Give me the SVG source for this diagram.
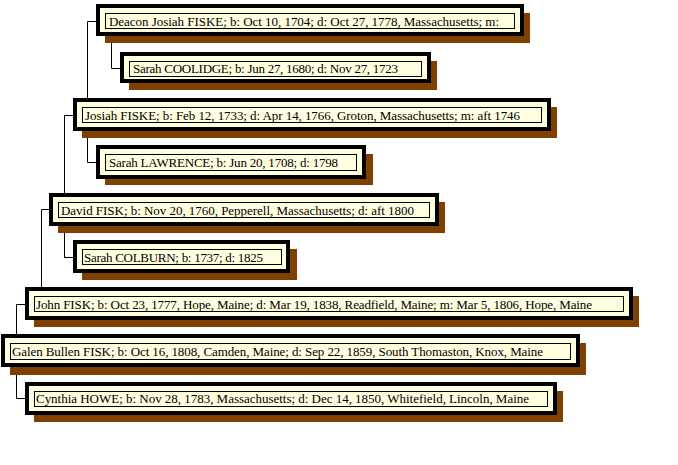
<svg xmlns="http://www.w3.org/2000/svg" width="678" height="465" viewBox="0 0 678 465">
<style>
.shadow{fill:#804000}
.box{fill:#FFFFE0;stroke:#000;stroke-width:4}
.inner{fill:none;stroke:#000;stroke-width:1}
.t{font-family:"Liberation Serif","Times New Roman",serif;font-size:13px;fill:#000}
.conn{fill:none;stroke:#000;stroke-width:1}
</style>
<rect width="678" height="465" fill="#fff"/>
<g id="connectors">
<polyline class="conn" points="96,21.5 87.5,21.5 87.5,98"/>
<polyline class="conn" points="111.5,43 111.5,68.5 120,68.5"/>
<polyline class="conn" points="73,115.5 64.5,115.5 64.5,193"/>
<polyline class="conn" points="87.5,138 87.5,162.5 96,162.5"/>
<polyline class="conn" points="49,209.5 41.5,209.5 41.5,287"/>
<polyline class="conn" points="64.5,233 64.5,257.5 73,257.5"/>
<polyline class="conn" points="25,304.5 16.5,304.5 16.5,334"/>
<polyline class="conn" points="16.5,374 16.5,398.5 25,398.5"/>
</g>
<g id="n1">
<rect class="shadow" x="105" y="13" width="425" height="30"/>
<rect class="box" x="98" y="6" width="424" height="28"/>
<rect class="inner" x="105.5" y="13.5" width="409" height="15"/>
<text class="t" x="109" y="26" textLength="390">Deacon Josiah FISKE; b: Oct 10, 1704; d: Oct 27, 1778, Massachusetts; m:</text>
</g>
<g id="n2">
<rect class="shadow" x="129" y="61" width="308" height="29"/>
<rect class="box" x="122" y="54" width="307" height="27"/>
<rect class="inner" x="129.5" y="61.5" width="292" height="15"/>
<text class="t" x="133" y="73" textLength="265">Sarah COOLIDGE; b: Jun 27, 1680; d: Nov 27, 1723</text>
</g>
<g id="n3">
<rect class="shadow" x="82" y="107" width="475" height="31"/>
<rect class="box" x="75" y="100" width="474" height="29"/>
<rect class="inner" x="82.5" y="107.5" width="459" height="15"/>
<text class="t" x="85" y="120" textLength="435">Josiah FISKE; b: Feb 12, 1733; d: Apr 14, 1766, Groton, Massachusetts; m: aft 1746</text>
</g>
<g id="n4">
<rect class="shadow" x="105" y="154" width="268" height="31"/>
<rect class="box" x="98" y="147" width="266" height="30"/>
<rect class="inner" x="105.5" y="154.5" width="251" height="16"/>
<text class="t" x="109" y="167" textLength="229">Sarah LAWRENCE; b: Jun 20, 1708; d: 1798</text>
</g>
<g id="n5">
<rect class="shadow" x="58" y="202" width="387" height="31"/>
<rect class="box" x="51" y="195" width="386" height="29"/>
<rect class="inner" x="58.5" y="202.5" width="371" height="15"/>
<text class="t" x="61" y="215" textLength="353">David FISK; b: Nov 20, 1760, Pepperell, Massachusetts; d: aft 1800</text>
</g>
<g id="n6">
<rect class="shadow" x="82" y="249" width="215" height="31"/>
<rect class="box" x="75" y="242" width="213" height="29"/>
<rect class="inner" x="82.5" y="249.5" width="199" height="15"/>
<text class="t" x="84" y="262" textLength="179">Sarah COLBURN; b: 1737; d: 1825</text>
</g>
<g id="n7">
<rect class="shadow" x="34" y="296" width="605" height="31"/>
<rect class="box" x="27" y="289" width="604" height="29"/>
<rect class="inner" x="34.5" y="296.5" width="589" height="15"/>
<text class="t" x="36" y="309" textLength="556">John FISK; b: Oct 23, 1777, Hope, Maine; d: Mar 19, 1838, Readfield, Maine; m: Mar 5, 1806, Hope, Maine</text>
</g>
<g id="n8">
<rect class="shadow" x="10" y="343" width="576" height="32"/>
<rect class="box" x="3" y="336" width="575" height="29"/>
<rect class="inner" x="10.5" y="343.5" width="560" height="16"/>
<text class="t" x="12" y="356" textLength="531">Galen Bullen FISK; b: Oct 16, 1808, Camden, Maine; d: Sep 22, 1859, South Thomaston, Knox, Maine</text>
</g>
<g id="n9">
<rect class="shadow" x="34" y="391" width="529" height="31"/>
<rect class="box" x="27" y="384" width="528" height="29"/>
<rect class="inner" x="34.5" y="391.5" width="513" height="15"/>
<text class="t" x="36" y="403" textLength="493">Cynthia HOWE; b: Nov 28, 1783, Massachusetts; d: Dec 14, 1850, Whitefield, Lincoln, Maine</text>
</g>
</svg>
